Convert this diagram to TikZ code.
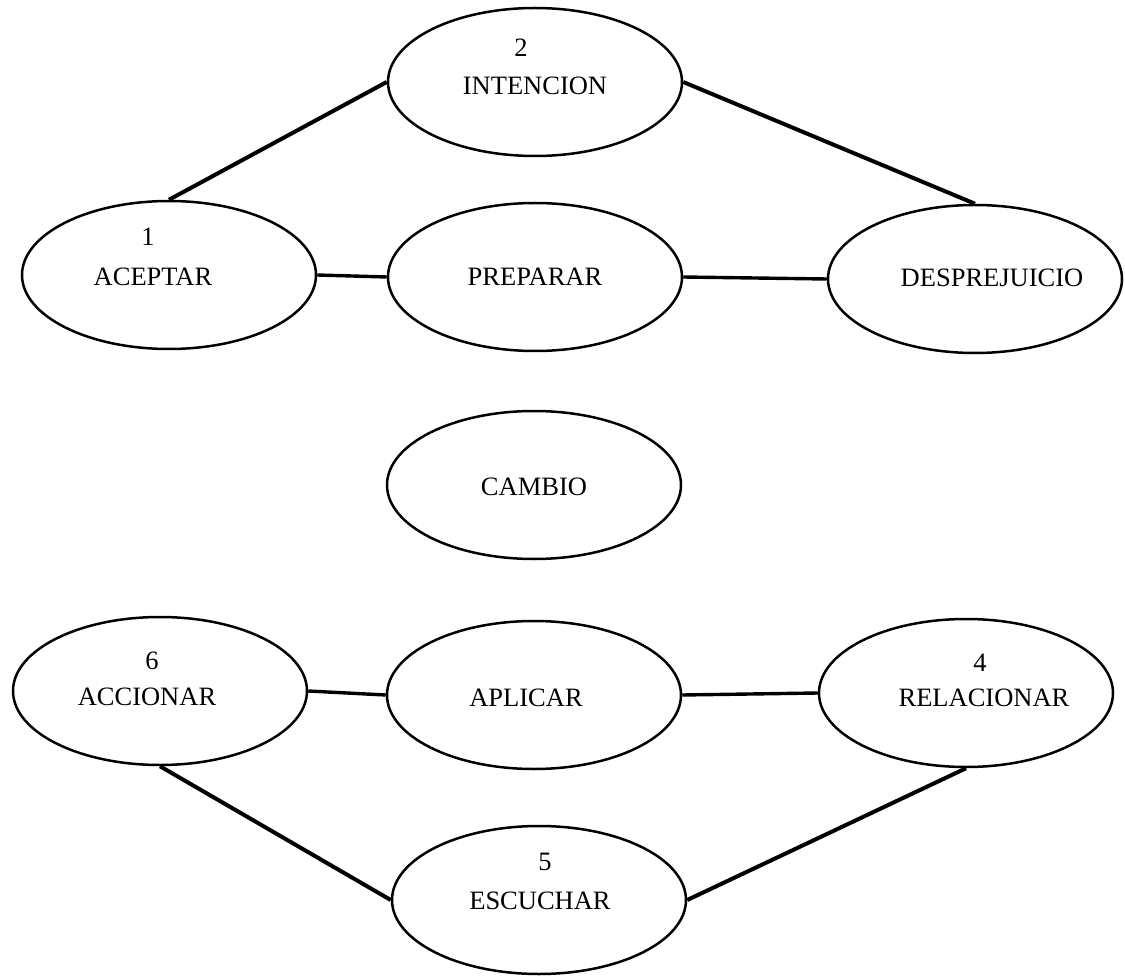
\documentclass[tikz,border=0pt]{standalone}
\usepackage{fontspec}
\setmainfont{Liberation Serif}
\usetikzlibrary{shapes.geometric}
\begin{document}
\begin{tikzpicture}[x=1pt,y=-1pt,
  oval/.style={draw=black, line width=2.5pt, ellipse, inner sep=0pt,
               minimum width=294pt, minimum height=148pt},
  lbl/.style={inner sep=0pt, font=\fontsize{26.5}{30}\selectfont},
  conn/.style={draw=black, line width=4pt},
  hconn/.style={draw=black, line width=3.4pt}]
\useasboundingbox[fill=white] (0,0) rectangle (1125,976);
% ellipses
\node[oval] (intencion) at (535,82) {};
\node[oval] (aceptar) at (169,275) {};
\node[oval] (preparar) at (535,277) {};
\node[oval] (desprejuicio) at (975,279) {};
\node[oval] (cambio) at (534,485) {};
\node[oval] (accionar) at (160,691) {};
\node[oval] (aplicar) at (534,695) {};
\node[oval] (relacionar) at (966,693) {};
\node[oval] (escuchar) at (539,900) {};
% texts
\node[lbl] (n2) at (521,48) {2};
\node[lbl] (t2) at (535,86) {INTENCION};
\node[lbl] (n1) at (148,237) {1};
\node[lbl] (t1) at (153,277) {ACEPTAR};
\node[lbl] (tp) at (535,277) {PREPARAR};
\node[lbl] (td) at (992,278) {DESPREJUICIO};
\node[lbl] (tc) at (534,487) {CAMBIO};
\node[lbl] (n6) at (152,661) {6};
\node[lbl] (t6) at (147,697) {ACCIONAR};
\node[lbl] (ta) at (526,698) {APLICAR};
\node[lbl] (n4) at (980,663) {4};
\node[lbl] (t4) at (984,698) {RELACIONAR};
\node[lbl] (n5) at (545,862) {5};
\node[lbl] (t5) at (540,901) {ESCUCHAR};
% connectors
\draw[conn] (aceptar.north) -- (intencion.west);
\draw[conn] (intencion.east) -- (desprejuicio.north);
\draw[hconn] (aceptar.east) -- (preparar.west);
\draw[hconn] (preparar.east) -- (desprejuicio.west);
\draw[hconn] (accionar.east) -- (aplicar.west);
\draw[hconn] (aplicar.east) -- (relacionar.west);
\draw[conn] (accionar.south) -- (escuchar.west);
\draw[conn] (relacionar.south) -- (escuchar.east);
\end{tikzpicture}
\end{document}
